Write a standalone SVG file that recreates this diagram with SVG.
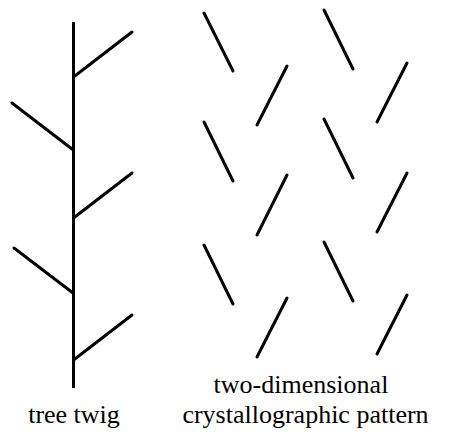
<svg xmlns="http://www.w3.org/2000/svg" width="454" height="434" viewBox="0 0 454 434">
<style>
.ln{stroke:#000;stroke-width:3;fill:none;stroke-linecap:round}
.st{stroke:#000;stroke-width:3;fill:none;stroke-linecap:butt}
text{font-family:'Liberation Serif',serif;font-size:26px;fill:#000;text-anchor:middle}
</style>
<rect width="454" height="434" fill="#fff"/>
<g id="twig">
<line class="st" x1="73.5" y1="22" x2="73.5" y2="388"/>
<line class="ln" x1="73.5" y1="77" x2="132" y2="32"/>
<line class="ln" x1="72" y1="149" x2="12" y2="103"/>
<line class="ln" x1="73.5" y1="218" x2="132" y2="173"/>
<line class="ln" x1="73" y1="293" x2="14" y2="248"/>
<line class="ln" x1="73.5" y1="360" x2="132" y2="315"/>
</g>
<g id="pattern">
<line class="ln" x1="204" y1="13" x2="233" y2="71"/>
<line class="ln" x1="287" y1="66" x2="257" y2="125"/>
<line class="ln" x1="204" y1="122" x2="233" y2="181"/>
<line class="ln" x1="287" y1="175" x2="257" y2="235"/>
<line class="ln" x1="204" y1="245" x2="233" y2="304"/>
<line class="ln" x1="287" y1="298" x2="257" y2="357"/>
<line class="ln" x1="324" y1="10" x2="353" y2="69"/>
<line class="ln" x1="407" y1="63" x2="377" y2="122"/>
<line class="ln" x1="324" y1="119" x2="353" y2="178"/>
<line class="ln" x1="407" y1="173" x2="377" y2="232"/>
<line class="ln" x1="324" y1="242" x2="353" y2="301"/>
<line class="ln" x1="407" y1="295" x2="377" y2="354"/>
</g>
<g id="labels">
<text x="74" y="423" style="font-family:'Liberation Serif',serif;font-size:26px">tree twig</text>
<text x="301" y="393" style="font-family:'Liberation Serif',serif;font-size:26px">two-dimensional</text>
<text x="305.5" y="423" style="font-family:'Liberation Serif',serif;font-size:26px">crystallographic pattern</text>
</g>
</svg>
